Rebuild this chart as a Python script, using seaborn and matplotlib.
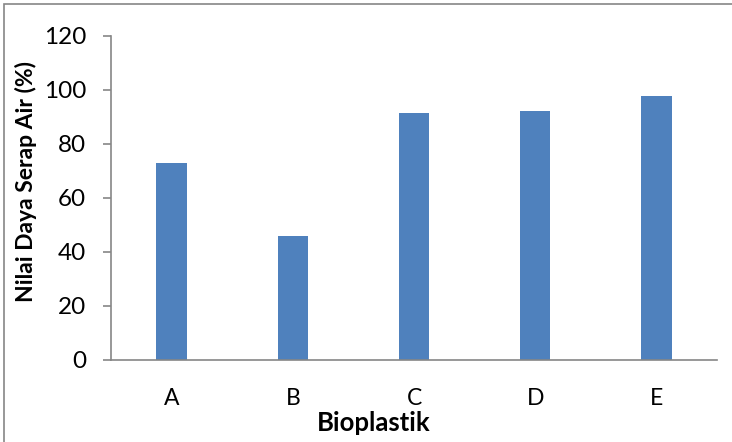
import matplotlib
matplotlib.use("Agg")
import matplotlib.pyplot as plt
import seaborn as sns
import pandas as pd
from matplotlib.patches import Rectangle

categories = ["A", "B", "C", "D", "E"]
values = [72.8, 45.8, 91.3, 92.3, 97.9]
yticks = [0, 20, 40, 60, 80, 100, 120]

sns.set_theme(style="white")
plt.rcParams['font.family'] = ['Lato', 'DejaVu Sans']

df = pd.DataFrame({"Bioplastik": categories, "Nilai": values})

fig = plt.figure(figsize=(7.32, 4.42), dpi=100)
ax = fig.add_axes([111/732, 1-360/442, (717-111)/732, (360-36)/442])

sns.barplot(data=df, x="Bioplastik", y="Nilai", color="#4F81BD", saturation=1,
            width=0.25, ax=ax, edgecolor="#4F81BD", linewidth=0)

ax.set_xlim(-0.5, 4.5)
ax.set_ylim(0, 120)
ax.set_yticks(yticks)
ax.set_yticklabels([str(t) for t in yticks])

for s in ["top", "right"]:
    ax.spines[s].set_visible(False)
for s in ["left", "bottom"]:
    ax.spines[s].set_color("#868686")
    ax.spines[s].set_linewidth(1.2)

ax.tick_params(axis="y", which="major", left=True, length=6, width=1.2, color="#868686",
               labelsize=17.5, pad=12, labelcolor="black", direction="out")
ax.tick_params(axis="x", which="major", bottom=False, length=0, labelsize=16.5, pad=20,
               labelcolor="black")

ax.set_xlabel("")
ax.set_ylabel("")
fig.text(374/732, 1-423/442, "Bioplastik", fontsize=18.5, fontweight="bold",
         ha="center", va="center", color="black")
fig.text(26/732, 1-182/442, "Nilai Daya Serap Air (%)", fontsize=16.5, fontweight="bold",
         ha="center", va="center", rotation=90, color="black")

# outer chart frame (partially visible)
fig.patches.append(Rectangle((4/732, -0.1), 1.2, 1 - 4/442 + 0.1, transform=fig.transFigure,
                             fill=False, edgecolor="#868686", linewidth=1.2))

fig.savefig("out.png", dpi=100)
